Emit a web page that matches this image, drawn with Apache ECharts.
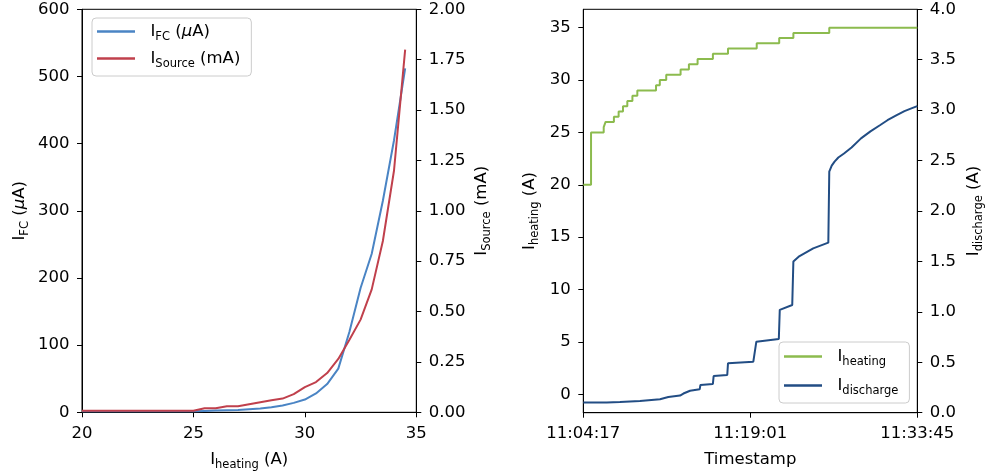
<!DOCTYPE html>
<html><head><meta charset="utf-8">
<script src="https://cdn.jsdelivr.net/npm/echarts@6/dist/echarts.min.js"></script>
<style>html,body{margin:0;padding:0;background:#fff}#c{width:985px;height:474px}</style>
</head><body><div id="c"></div>
<script>
// ---- Left panel data (I_heating sweep) ----
const heatingA = [20,20.5,21,21.5,22,22.5,23,23.5,24,24.5,25,25.5,26,26.5,27,27.5,28,28.5,29,29.5,30,30.5,31,31.5,32,32.5,33,33.5,34,34.5];
const fcMicroA = [1.5,1.5,1.5,1.5,1.5,1.5,1.5,1.5,1.5,1.5,1.5,2,2.5,3,3.5,4.5,5.5,7.5,10,14,19,28,42,65,120,185,236,315,405,512];
const sourceMilliA = [0.008,0.008,0.008,0.008,0.008,0.008,0.008,0.008,0.008,0.008,0.008,0.02,0.02,0.03,0.03,0.04,0.05,0.06,0.068,0.09,0.125,0.15,0.195,0.265,0.36,0.46,0.61,0.85,1.2,1.8];
const leftXTicks = [20,25,30,35];

// ---- Right panel data (time series, seconds after 11:04:17) ----
const heatTimeSec = [0,41,108,118,162,187,210,233,260,286,385,405,439,515,559,605,686,766,918,1037,1112,1302,1768];
const heatCurrentA = [20,25,25.5,26,26.5,27,27.5,28,28.5,29,29.5,30,30.5,31,31.5,32,32.5,33,33.5,34,34.5,35,35];
const dischargeTimeSec = [0,60,124,194,300,406,450,512,530,565,616,620,686,690,762,766,900,916,1035,1040,1106,1112,1140,1217,1297,1302,1315,1330,1350,1380,1420,1470,1520,1570,1610,1659,1700,1740,1768];
const dischargeCurrentA = [0.10,0.10,0.10,0.105,0.115,0.133,0.155,0.17,0.19,0.218,0.232,0.275,0.285,0.364,0.374,0.49,0.506,0.704,0.73,1.02,1.068,1.50,1.547,1.63,1.686,2.39,2.45,2.49,2.53,2.57,2.63,2.72,2.79,2.85,2.90,2.95,2.99,3.02,3.04];
const heatAxisTicks = [0,5,10,15,20,25,30,35];
const timeTickSec = [0,884,1768];
const timeTickLabels = ['11:04:17','11:19:01','11:33:45'];

const F = 'DejaVu Sans';
const FS = 16.5;
const rich = {
  m: {fontFamily: F, fontSize: FS, color: '#000'},
  i: {fontFamily: F, fontSize: FS, color: '#000', fontStyle: 'italic'},
  s: {fontFamily: F, fontSize: 11.5, color: '#000', padding: [11,0,0,0]}
};
const names = {
  fc: '{m|I}{s|FC}{m| (}{i|μ}{m|A)}',
  src: '{m|I}{s|Source}{m| (mA)}',
  heat: '{m|I}{s|heating}{m| (A)}',
  heatLeg: '{m|I}{s|heating}',
  dis: '{m|I}{s|discharge}{m| (A)}',
  disLeg: '{m|I}{s|discharge}'
};
const GAP = '{m|\u00a0\u00a0}';
const C = {fc: '#4a84c4', src: '#c0404c', heat: '#8cbb4e', dis: '#224d84'};

function lbl(extra) {
  return Object.assign({fontFamily: F, fontSize: FS, color: '#000', margin: 12.5}, extra || {});
}
function axisBase(extra) {
  return Object.assign({
    axisLine: {show: true, onZero: false, lineStyle: {color: '#000', width: 1}},
    axisTick: {show: true, inside: false, length: 5, lineStyle: {color: '#000', width: 1}},
    axisLabel: lbl(),
    splitLine: {show: false},
    nameTextStyle: {rich: rich},
    nameLocation: 'middle'
  }, extra);
}
const legendCommon = {
  orient: 'vertical', icon: 'rect', itemWidth: 38, itemHeight: 2.5,
  backgroundColor: 'rgba(255,255,255,0.8)', borderColor: '#cccccc', borderWidth: 1, borderRadius: 4,
  textStyle: {rich: rich}
};

const chart = echarts.init(document.getElementById('c'), null, {renderer: 'canvas'});
chart.setOption({
  animation: false,
  backgroundColor: '#fff',
  grid: [
    {left: 82, top: 9.3, width: 334.3, height: 403, show: true, borderColor: '#000', borderWidth: 1, containLabel: false, outerBoundsMode: 'none'},
    {left: 583.3, top: 9.3, width: 334, height: 403.4, show: true, borderColor: '#000', borderWidth: 1, containLabel: false, outerBoundsMode: 'none'}
  ],
  legend: [
    Object.assign({}, legendCommon, {left: 92, top: 18, padding: [5,11,6,5], itemGap: 7,
      data: ['fc','src'], formatter: n => GAP + names[n]}),
    Object.assign({}, legendCommon, {left: 779, top: 342, padding: [6,11,6,5], itemGap: 9,
      data: ['heat','dis'], formatter: n => GAP + names[n + 'Leg']})
  ],
  xAxis: [
    axisBase({gridIndex: 0, type: 'value', min: 20, max: 35, interval: 5, name: names.heat, nameGap: 36,
      axisLabel: lbl({margin: 13, formatter: v => leftXTicks.includes(v) ? String(v) : ''})}),
    axisBase({gridIndex: 1, type: 'value', min: 0, max: 1768, interval: 884, name: 'Timestamp', nameGap: 39,
      nameTextStyle: {fontFamily: F, fontSize: FS, color: '#000'},
      axisLabel: lbl({margin: 13, formatter: v => { const k = timeTickSec.indexOf(v); return k >= 0 ? timeTickLabels[k] : ''; }})})
  ],
  yAxis: [
    axisBase({gridIndex: 0, type: 'value', position: 'left', min: 0, max: 600, interval: 100, name: names.fc, nameGap: 51, nameRotate: 90}),
    axisBase({gridIndex: 0, type: 'value', position: 'right', min: 0, max: 2, interval: 0.25, name: names.src, nameGap: 54, nameRotate: 90,
      axisLabel: lbl({formatter: v => v.toFixed(2)})}),
    axisBase({gridIndex: 1, type: 'value', position: 'left', min: -1.75, max: 36.75, name: names.heat, nameGap: 42, nameRotate: 90,
      axisTick: {show: true, length: 5, lineStyle: {color: '#000'}, customValues: heatAxisTicks},
      axisLabel: lbl({customValues: heatAxisTicks})}),
    axisBase({gridIndex: 1, type: 'value', position: 'right', min: 0, max: 4, interval: 0.5, name: names.dis, nameGap: 45, nameRotate: 90,
      axisLabel: lbl({formatter: v => v.toFixed(1)})})
  ],
  series: [
    {name: 'fc', type: 'line', xAxisIndex: 0, yAxisIndex: 0, showSymbol: false, symbol: 'none',
      lineStyle: {color: C.fc, width: 2}, itemStyle: {color: C.fc},
      data: heatingA.map((x, k) => [x, fcMicroA[k]])},
    {name: 'src', type: 'line', xAxisIndex: 0, yAxisIndex: 1, showSymbol: false, symbol: 'none',
      lineStyle: {color: C.src, width: 2}, itemStyle: {color: C.src},
      data: heatingA.map((x, k) => [x, sourceMilliA[k]])},
    {name: 'heat', type: 'line', xAxisIndex: 1, yAxisIndex: 2, showSymbol: false, symbol: 'none', step: 'end',
      lineStyle: {color: C.heat, width: 2}, itemStyle: {color: C.heat},
      data: heatTimeSec.map((t, k) => [t, heatCurrentA[k]])},
    {name: 'dis', type: 'line', xAxisIndex: 1, yAxisIndex: 3, showSymbol: false, symbol: 'none',
      lineStyle: {color: C.dis, width: 2}, itemStyle: {color: C.dis},
      data: dischargeTimeSec.map((t, k) => [t, dischargeCurrentA[k]])}
  ]
});
</script>
</body></html>
